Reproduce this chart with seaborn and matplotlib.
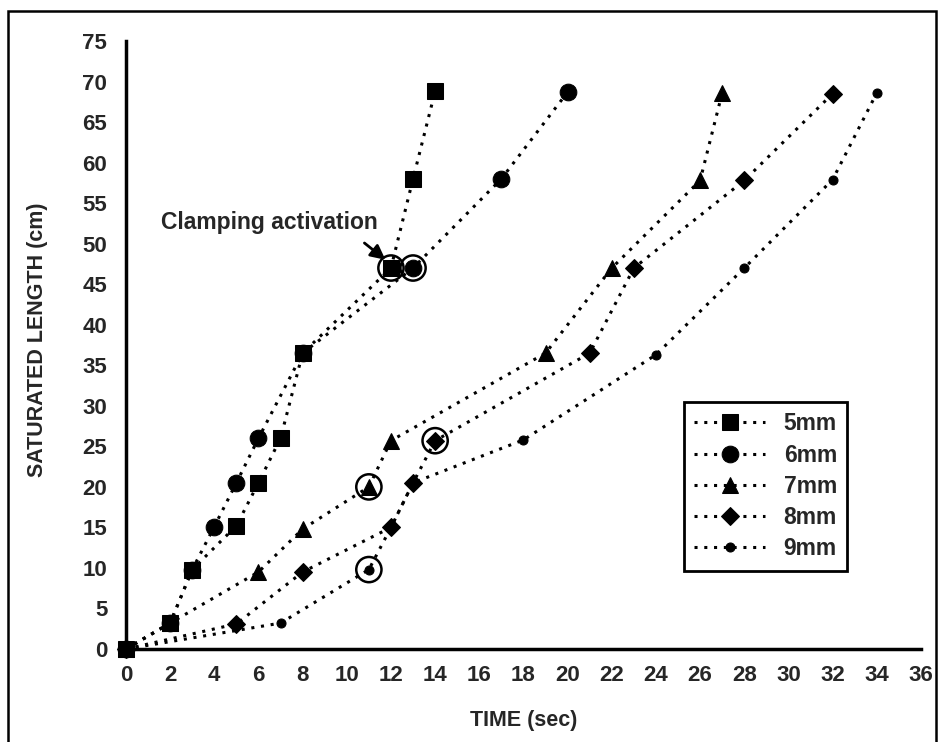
import matplotlib
matplotlib.use("Agg")
import matplotlib.pyplot as plt
from matplotlib.patches import Rectangle
import pandas as pd
import seaborn as sns

# ---- data ----
t5 = [0, 2, 3, 5, 6, 7, 8, 12, 13, 14]
l5 = [0, 3.2, 9.8, 15.2, 20.5, 26.0, 36.5, 47.0, 58.0, 68.8]
t6 = [0, 2, 3, 4, 5, 6, 8, 13, 17, 20]
l6 = [0, 3.2, 9.8, 15.1, 20.5, 26.0, 36.5, 47.0, 58.0, 68.7]
t7 = [0, 2, 6, 8, 11, 12, 19, 22, 26, 27]
l7 = [0, 3.2, 9.5, 14.8, 20.0, 25.7, 36.5, 47.0, 57.8, 68.6]
t8 = [0, 5, 8, 12, 13, 14, 21, 23, 28, 32]
l8 = [0, 3.1, 9.5, 15.0, 20.5, 25.7, 36.5, 47.0, 57.8, 68.5]
t9 = [0, 7, 11, 12, 13, 18, 24, 28, 32, 34]
l9 = [0, 3.2, 9.8, 15.0, 20.5, 25.8, 36.3, 47.0, 57.9, 68.6]
series_names = ["5mm", "6mm", "7mm", "8mm", "9mm"]

clamp_t = [12, 13, 11, 14, 11]
clamp_l = [47.0, 47.0, 20.0, 25.7, 9.8]

x_ticks = list(range(0, 37, 2))
y_ticks = list(range(0, 76, 5))

sns.set_style("white")
plt.rcParams["font.family"] = ["Liberation Sans", "DejaVu Sans"]
plt.rcParams["font.weight"] = "bold"

fig = plt.figure(figsize=(9.38, 7.42), dpi=100)
ax = fig.add_axes([0.1343, 0.1253, 0.8475, 0.8194])

styles = {
    "5mm": ("s", 12, 7),
    "6mm": ("o", 12, 4),
    "7mm": ("^", 12, 5),
    "8mm": ("D", 9, 6),
    "9mm": ("o", 6.5, 3),
}
data = {"5mm": (t5, l5), "6mm": (t6, l6), "7mm": (t7, l7),
        "8mm": (t8, l8), "9mm": (t9, l9)}

for name in series_names:
    t, l = data[name]
    m, ms, z = styles[name]
    df = pd.DataFrame({"t": t, "l": l})
    sns.lineplot(data=df, x="t", y="l", ax=ax, color="black",
                 linestyle=(0, (1, 2.2)), linewidth=2.2, marker=m,
                 markersize=ms, markeredgecolor="black",
                 markerfacecolor="black", label=name, zorder=z,
                 sort=False, clip_on=False)

ax.scatter(clamp_t, clamp_l, s=330, facecolors="none", edgecolors="black",
           linewidths=1.8, zorder=9, clip_on=False)

ax.text(1.6, 52.6, "Clamping activation", fontsize=16.5, fontweight="bold",
        va="center", ha="left")
ax.annotate("", xy=(11.85, 47.8), xytext=(10.7, 50.3),
            arrowprops=dict(arrowstyle="-|>", color="black", lw=2,
                            mutation_scale=22))

ax.set_xlim(0, 36)
ax.set_ylim(0, 75)
ax.set_xticks(x_ticks)
ax.set_yticks(y_ticks)
ax.set_xticklabels([str(v) for v in x_ticks])
ax.set_yticklabels([str(v) for v in y_ticks])
ax.tick_params(axis="both", direction="inout", length=13, width=2,
               labelsize=16, color="black")
ax.tick_params(axis="x", pad=5)
ax.tick_params(axis="y", pad=7)
for lab in ax.get_xticklabels() + ax.get_yticklabels():
    lab.set_fontweight("bold")

for s in ["top", "right"]:
    ax.spines[s].set_visible(False)
for s in ["left", "bottom"]:
    ax.spines[s].set_linewidth(2.5)
    ax.spines[s].set_color("black")

ax.set_xlabel("TIME (sec)", fontsize=15.5, fontweight="bold")
ax.set_ylabel("SATURATED LENGTH (cm)", fontsize=15.5, fontweight="bold")
ax.xaxis.set_label_coords(0.5, -0.1)
ax.yaxis.set_label_coords(-0.098, 0.508)

leg = ax.legend(loc="upper left", bbox_to_anchor=(0.702, 0.406),
                frameon=True, fancybox=False, edgecolor="black",
                framealpha=1, fontsize=16.5, handlelength=3.1,
                labelspacing=0.36, borderpad=0.45, handletextpad=0.8,
                borderaxespad=0)
leg.get_frame().set_linewidth(2)
for txt in leg.get_texts():
    txt.set_fontweight("bold")

fig.patches.append(Rectangle((0.0085, -0.01), 0.989, 0.995,
                             transform=fig.transFigure, fill=False,
                             lw=1.8, edgecolor="black"))

fig.savefig("out.png", dpi=100)
